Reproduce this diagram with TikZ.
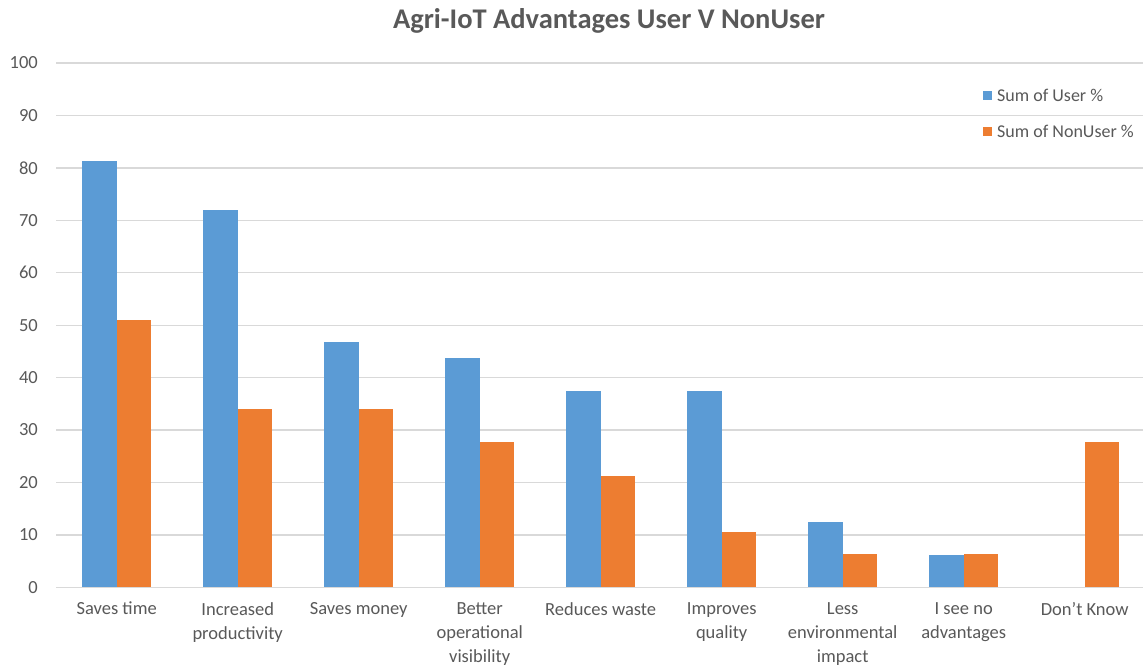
\documentclass[tikz,border=0pt]{standalone}
\usepackage{fontspec}
\setmainfont{Carlito}
\definecolor{userblue}{HTML}{5B9BD5}
\definecolor{nonorange}{HTML}{ED7D31}
\definecolor{gridgray}{HTML}{D9D9D9}
\definecolor{labelgray}{HTML}{595959}
\begin{document}
\begin{tikzpicture}[x=1pt,y=-1pt,
  gridline/.style={draw=gridgray,line width=1.3pt},
  ticklabel/.style={anchor=east,text=labelgray,font=\fontsize{18.5}{18.5}\selectfont,inner sep=0pt},
  catlabel/.style={anchor=north,text=labelgray,align=center,font=\fontsize{18.5}{24}\selectfont,inner sep=0pt},
  legendlabel/.style={anchor=west,text=labelgray,font=\fontsize{18}{18}\selectfont,inner sep=0pt},
  userbar/.style={fill=userblue},
  nonbar/.style={fill=nonorange}]
\useasboundingbox (0,0) rectangle (1143,666);
\fill[white] (0,0) rectangle (1143,666);
% value axis: 0 at y=587.3, 5.243 px per percent
\def\yz{587.3}
\def\ys{5.243}
\foreach \v in {0,10,...,100}{
  \pgfmathsetmacro\yy{\yz-\ys*\v}
  \draw[gridline] (56,\yy) -- (1143,\yy);
  \node[ticklabel] (tick\v) at (38,\yy) {\v};
}
% bars: category centre 116.7 + 121 i, bar width 34.3
\foreach \i/\u/\n/\lab in {
  0/81.25/51.06/{Saves time},
  1/71.875/34.04/{Increased\\productivity},
  2/46.875/34.04/{Saves money},
  3/43.75/27.66/{Better\\operational\\visibility},
  4/37.5/21.28/{Reduces waste},
  5/37.5/10.64/{Improves\\quality},
  6/12.5/6.38/{Less\\environmental\\impact},
  7/6.25/6.38/{I see no\\advantages},
  8/0/27.66/{Don\char"27 t Know}}{
  \pgfmathsetmacro\cx{116.7+121*\i}
  \pgfmathsetmacro\yu{\yz-\ys*\u}
  \pgfmathsetmacro\yn{\yz-\ys*\n}
  \ifdim\u pt>0pt
    \fill[userbar] (\cx-34.3,\yz) rectangle (\cx,\yu);
  \fi
  \fill[nonbar] (\cx,\yz) rectangle (\cx+34.3,\yn);
  \node[catlabel] (cat\i) at (\cx,602) {\lab};
}
% title
\node[text=labelgray,font=\fontsize{28.5}{28.5}\selectfont\bfseries] (title) at (609,21) {Agri-IoT Advantages User V NonUser};
% legend
\fill[userblue] (983,91) rectangle (992,100);
\node[legendlabel] (leguser) at (997,95.5) {Sum of User \%};
\fill[nonorange] (983,127) rectangle (992,136);
\node[legendlabel] (legnon) at (997,131.5) {Sum of NonUser \%};
\end{tikzpicture}
\end{document}
